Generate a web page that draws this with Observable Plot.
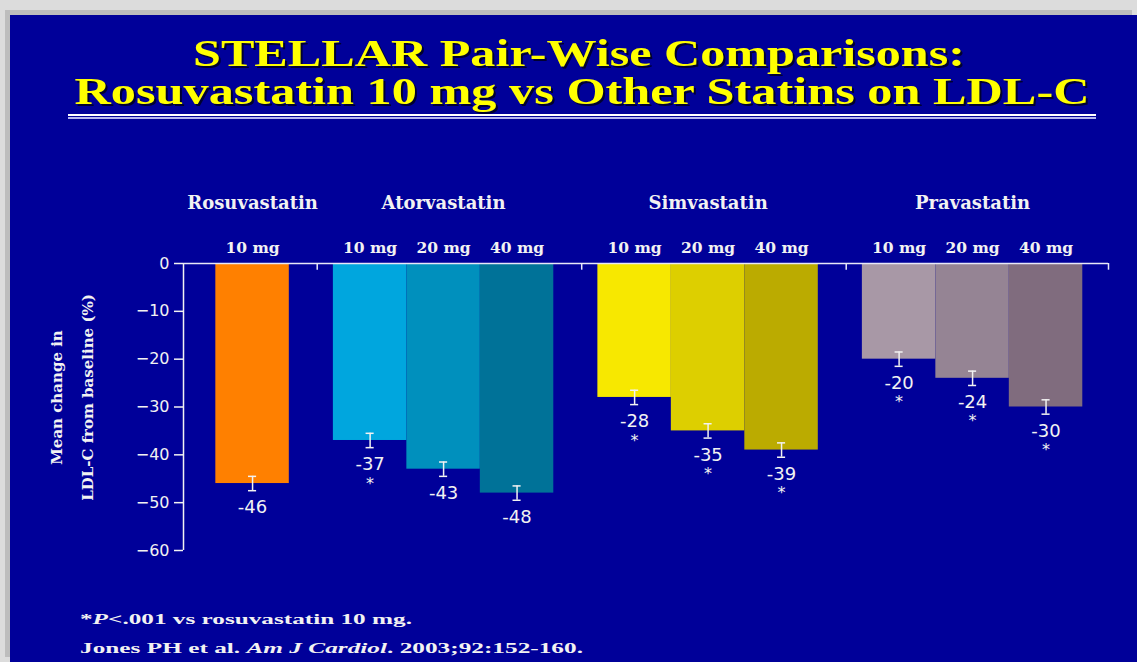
<!DOCTYPE html>
<html>
<head>
<meta charset="utf-8">
<script src="https://cdn.jsdelivr.net/npm/d3@7"></script>
<script src="https://cdn.jsdelivr.net/npm/@observablehq/plot@0.6"></script>
<style>
  html, body { margin: 0; padding: 0; }
  body { width: 1137px; height: 662px; background: #dcdcdc; position: relative; overflow: hidden; }
  #slide { position: absolute; left: 10px; top: 15px; right: 0; bottom: 0; background: #000099; box-shadow: -5px -5px 0 0 #bdbdbd; }
  #title, #notes { position: absolute; left: 0; }
  #title { top: 0; }
  #notes { top: 590px; }
  #chart { position: absolute; left: 0; top: 170px; }
</style>
</head>
<body>
<div id="slide"></div>
<svg id="title" width="1137" height="130">
  <g style="filter: drop-shadow(2px 2px 0 #000030);" font-family="Liberation Serif, Times New Roman, serif" font-weight="bold" font-size="37" fill="#ffff00" text-anchor="middle">
    <text x="579" y="66" textLength="772" lengthAdjust="spacingAndGlyphs">STELLAR Pair-Wise Comparisons:</text>
    <text x="582" y="104" textLength="1015" lengthAdjust="spacingAndGlyphs">Rosuvastatin 10 mg vs Other Statins on LDL-C</text>
  </g>
  <line x1="68" x2="1096" y1="115" y2="115" stroke="#ffffff" stroke-width="2"/>
  <line x1="68" x2="1096" y1="118" y2="118" stroke="#b4b4f0" stroke-width="2"/>
</svg>
<div id="chart"></div>
<svg id="notes" width="1137" height="72">
  <g font-family="Liberation Serif, Times New Roman, serif" font-weight="bold" font-size="15" fill="#f2f2f2">
    <text x="80" y="34" textLength="332" lengthAdjust="spacingAndGlyphs">*<tspan font-style="italic">P</tspan>&lt;.001 vs rosuvastatin 10 mg.</text>
    <text x="80" y="63" textLength="503" lengthAdjust="spacingAndGlyphs">Jones PH et al. <tspan font-style="italic">Am J Cardiol</tspan>. 2003;92:152-160.</text>
  </g>
</svg>
<script>
// ---- data ----
const drugs = ["Rosuvastatin", "Atorvastatin", "Atorvastatin", "Atorvastatin",
               "Simvastatin", "Simvastatin", "Simvastatin",
               "Pravastatin", "Pravastatin", "Pravastatin"];
const doses = ["10 mg", "10 mg", "20 mg", "40 mg", "10 mg", "20 mg", "40 mg", "10 mg", "20 mg", "40 mg"];
const changes = [-46, -37, -43, -48, -28, -35, -39, -20, -24, -30];
const errors = [1.5, 1.5, 1.5, 1.5, 1.5, 1.5, 1.5, 1.5, 1.5, 1.5];
const significant = [false, true, false, false, true, true, true, true, true, true];
const yTicks = [0, -10, -20, -30, -40, -50, -60];

// ---- style ----
const palette = ["#ff8000", "#00a6de", "#0090bd", "#007298",
                 "#f7e800", "#ddcf00", "#bbab00",
                 "#a898a6", "#958494", "#806c7e"];

// ---- layout (bar slot units) ----
const firstCenter = 0.94, groupGap = 1.6, xEnd = 12.59;
let p = firstCenter;
const bars = changes.map((v, i) => {
  if (i > 0) p += drugs[i] !== drugs[i - 1] ? groupGap : 1;
  return {key: drugs[i] + " " + doses[i], drug: drugs[i], dose: doses[i], value: v,
          err: errors[i], sig: significant[i], pos: p};
});
const groupNames = [...new Set(drugs)];
const groups = groupNames.map(g => {
  const b = bars.filter(d => d.drug === g);
  return {drug: g, pos: d3.mean(b, d => d.pos), first: b[0].pos, last: b[b.length - 1].pos};
});
const separators = groups.slice(1).map((g, i) => (groups[i].last + g.first) / 2 + 0.08).concat([xEnd]);

const white = "#f2f2f2";
const chart = Plot.plot({
  width: 1137,
  height: 400,
  marginLeft: 183,
  marginRight: 29,
  marginTop: 93,
  marginBottom: 20,
  style: {background: "transparent", color: white, fontFamily: "DejaVu Sans, sans-serif"},
  x: {domain: [0, xEnd], axis: null},
  y: {domain: [-60, 0], axis: null},
  color: {domain: bars.map(d => d.key), range: palette},
  marks: [
    Plot.rectY(bars, {x1: d => d.pos - 0.5, x2: d => d.pos + 0.5, y1: 0, y2: "value", fill: "key"}),
    Plot.ruleX([0], {y1: -60, y2: 0, stroke: white, strokeWidth: 1.5}),
    Plot.ruleY([0], {x1: 0, x2: xEnd, stroke: "#e8e8f8", strokeWidth: 1.5}),
    Plot.ruleX(separators, {x: d => d, y1: 0, y2: -1.4, stroke: "#e8e8f8", strokeWidth: 1.5}),
    Plot.axisY(yTicks, {label: null, tickSize: 9, tickPadding: 5, fontSize: 16, stroke: white, strokeWidth: 1.5, fill: white}),
    // error bars
    Plot.ruleX(bars, {x: "pos", y1: d => d.value - d.err, y2: d => d.value + d.err, stroke: white, strokeWidth: 1.5}),
    Plot.ruleY(bars, {y: d => d.value - d.err, x1: d => d.pos - 0.055, x2: d => d.pos + 0.055, stroke: white, strokeWidth: 1.5}),
    Plot.ruleY(bars, {y: d => d.value + d.err, x1: d => d.pos - 0.055, x2: d => d.pos + 0.055, stroke: white, strokeWidth: 1.5}),
    // value labels
    Plot.text(bars, {x: "pos", y: "value", text: d => String(d.value), dy: 24, fontSize: 18, fill: white}),
    Plot.text(bars.filter(d => d.sig), {x: "pos", y: "value", text: () => "*", dy: 43, fontSize: 16, fill: white}),
    // dose labels
    Plot.text(bars, {x: "pos", y: 0, text: "dose", dy: -15, fontSize: 15.5, fontWeight: "bold",
                     fontFamily: "DejaVu Serif, serif", fill: white}),
    // group labels
    Plot.text(groups, {x: "pos", y: 0, text: "drug", dy: -60, fontSize: 18, fontWeight: "bold",
                       fontFamily: "DejaVu Serif, serif", fill: white}),
    // y label
    Plot.text(["Mean change in\nLDL-C from baseline (%)"], {text: d => d, frameAnchor: "left", rotate: -90,
              textAnchor: "middle", lineAnchor: "middle",
              dx: -116, dy: -9.5, fontSize: 15, fontWeight: "bold", lineHeight: 2.05,
              fontFamily: "DejaVu Serif, serif", fill: white})
  ]
});
document.getElementById("chart").appendChild(chart);
</script>
</body>
</html>
